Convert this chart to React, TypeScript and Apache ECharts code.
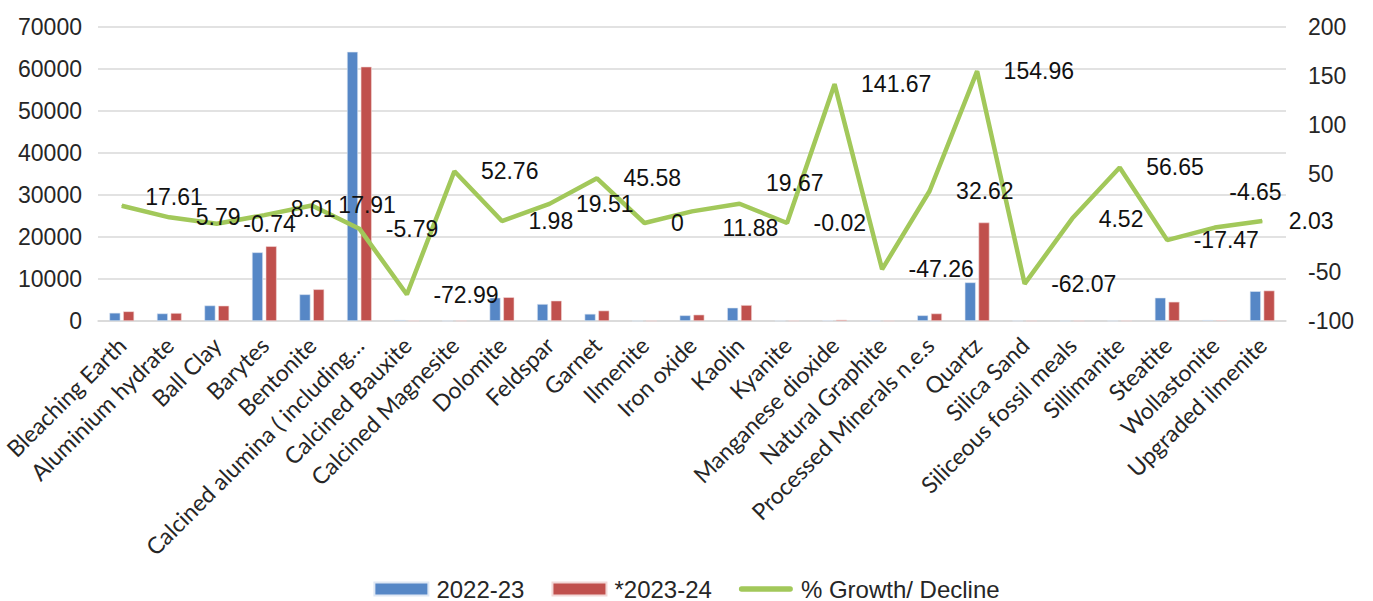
import React, { useEffect, useRef } from "react";
import * as echarts from "echarts";

const categories = [
  "Bleaching Earth",
  "Aluminium hydrate",
  "Ball Clay",
  "Barytes",
  "Bentonite",
  "Calcined alumina ( including…",
  "Calcined Bauxite",
  "Calcined Magnesite",
  "Dolomite",
  "Feldspar",
  "Garnet",
  "Ilmenite",
  "Iron oxide",
  "Kaolin",
  "Kyanite",
  "Manganese dioxide",
  "Natural Graphite",
  "Processed Minerals n.e.s",
  "Quartz",
  "Silica Sand",
  "Siliceous fossil meals",
  "Sillimanite",
  "Steatite",
  "Wollastonite",
  "Upgraded ilmenite",
];

const values2022 = [
  1950, 1800, 3700, 16350, 6350, 64100, 240, 36, 5550, 4050, 1700, 5, 1350,
  3170, 60, 125, 40, 1350, 9200, 58, 22, 30, 5550, 220, 7100,
];

const values2023 = [
  2300, 1900, 3650, 17800, 7550, 60550, 65, 55, 5660, 4840, 2480, 5, 1510,
  3794, 60, 302, 21, 1790, 23450, 22, 23, 47, 4580, 182, 7245,
];

const growth = [
  17.61, 5.79, -0.74, 8.01, 17.91, -5.79, -72.99, 52.76, 1.98, 19.51, 45.58,
  0, 11.88, 19.67, -0.02, 141.67, -47.26, 32.62, 154.96, -62.07, 4.52, 56.65,
  -17.47, -4.65, 2.03,
];

const seriesNames = ["2022-23", "*2023-24", "% Growth/ Decline"];

// hand-moved data labels in the reference (index -> pixel nudge)
const labelNudges: Record<number, [number, number]> = {
  0: [-3, -9],
  3: [0, -6],
  12: [4, 17],
  13: [0, -21],
  23: [-12, -36],
};

const ARIAL = "Liberation Sans, Arial, sans-serif";

export default function App() {
  const ref = useRef<HTMLDivElement>(null);

  useEffect(() => {
    document.body.style.margin = "0";
    if (!ref.current) return;
    const chart = echarts.init(ref.current, null, { renderer: "svg" });
    const axisFont = {
      fontFamily: ARIAL,
      fontSize: 23,
      color: "#262626",
    };
    const growthData = growth.map((v, i) =>
      labelNudges[i] ? { value: v, label: { offset: labelNudges[i] } } : v
    );
    chart.setOption({
      animation: false,
      backgroundColor: "#ffffff",
      grid: {
        left: 98,
        right: 87,
        top: 27,
        height: 294,
        containLabel: false,
        outerBoundsMode: "none",
      },
      legend: {
        bottom: 0,
        left: "center",
        padding: 0,
        itemWidth: 54,
        itemHeight: 13,
        itemGap: 27,
        textStyle: {
          fontFamily: ARIAL,
          fontSize: 24,
          color: "#262626",
          padding: [0, 0, 0, 3],
        },
        data: [
          { name: seriesNames[0], icon: "rect" },
          { name: seriesNames[1], icon: "rect" },
          {
            name: seriesNames[2],
            icon: "path://M3,0 L57,0 A3,3 0 0 1 57,6 L3,6 A3,3 0 0 1 3,0 Z",
          },
        ],
      },
      xAxis: {
        type: "category",
        data: categories,
        axisTick: { show: false },
        axisLine: { lineStyle: { color: "#d9d9d9", width: 1.5 } },
        axisLabel: {
          interval: 0,
          rotate: 45,
          margin: 20,
          fontFamily: "Lato, Open Sans, sans-serif",
          fontSize: 23,
          color: "#262626",
        },
      },
      yAxis: [
        {
          type: "value",
          min: 0,
          max: 70000,
          interval: 10000,
          axisLine: { show: false },
          axisTick: { show: false },
          splitLine: { lineStyle: { color: "#d9d9d9", width: 1.5 } },
          axisLabel: { ...axisFont, margin: 16, formatter: (v: number) => String(v) },
        },
        {
          type: "value",
          min: -100,
          max: 200,
          interval: 50,
          axisLine: { show: false },
          axisTick: { show: false },
          splitLine: { show: false },
          axisLabel: {
            ...axisFont,
            margin: 22,
            formatter: (v: number) => (v === 0 ? "" : String(v)),
          },
        },
      ],
      series: [
        {
          name: seriesNames[0],
          type: "bar",
          data: values2022,
          barWidth: 11,
          barGap: "25%",
          itemStyle: { color: "#5687C6", borderColor: "#dfe8f4", borderWidth: 0.6 },
        },
        {
          name: seriesNames[1],
          type: "bar",
          data: values2023,
          barWidth: 11,
          barGap: "25%",
          itemStyle: { color: "#C0504D", borderColor: "#f2d8d7", borderWidth: 0.6 },
        },
        {
          name: seriesNames[2],
          type: "line",
          yAxisIndex: 1,
          data: growthData,
          symbol: "circle",
          symbolSize: 1,
          showSymbol: true,
          lineStyle: { color: "#A2C85A", width: 4.5 },
          itemStyle: { color: "#A2C85A" },
          z: 5,
          label: {
            show: true,
            position: "right",
            distance: 26,
            fontFamily: ARIAL,
            fontSize: 23,
            color: "#111111",
          },
        },
      ],
    });
    return () => chart.dispose();
  }, []);

  return <div ref={ref} style={{ width: 1373, height: 601 }} />;
}
